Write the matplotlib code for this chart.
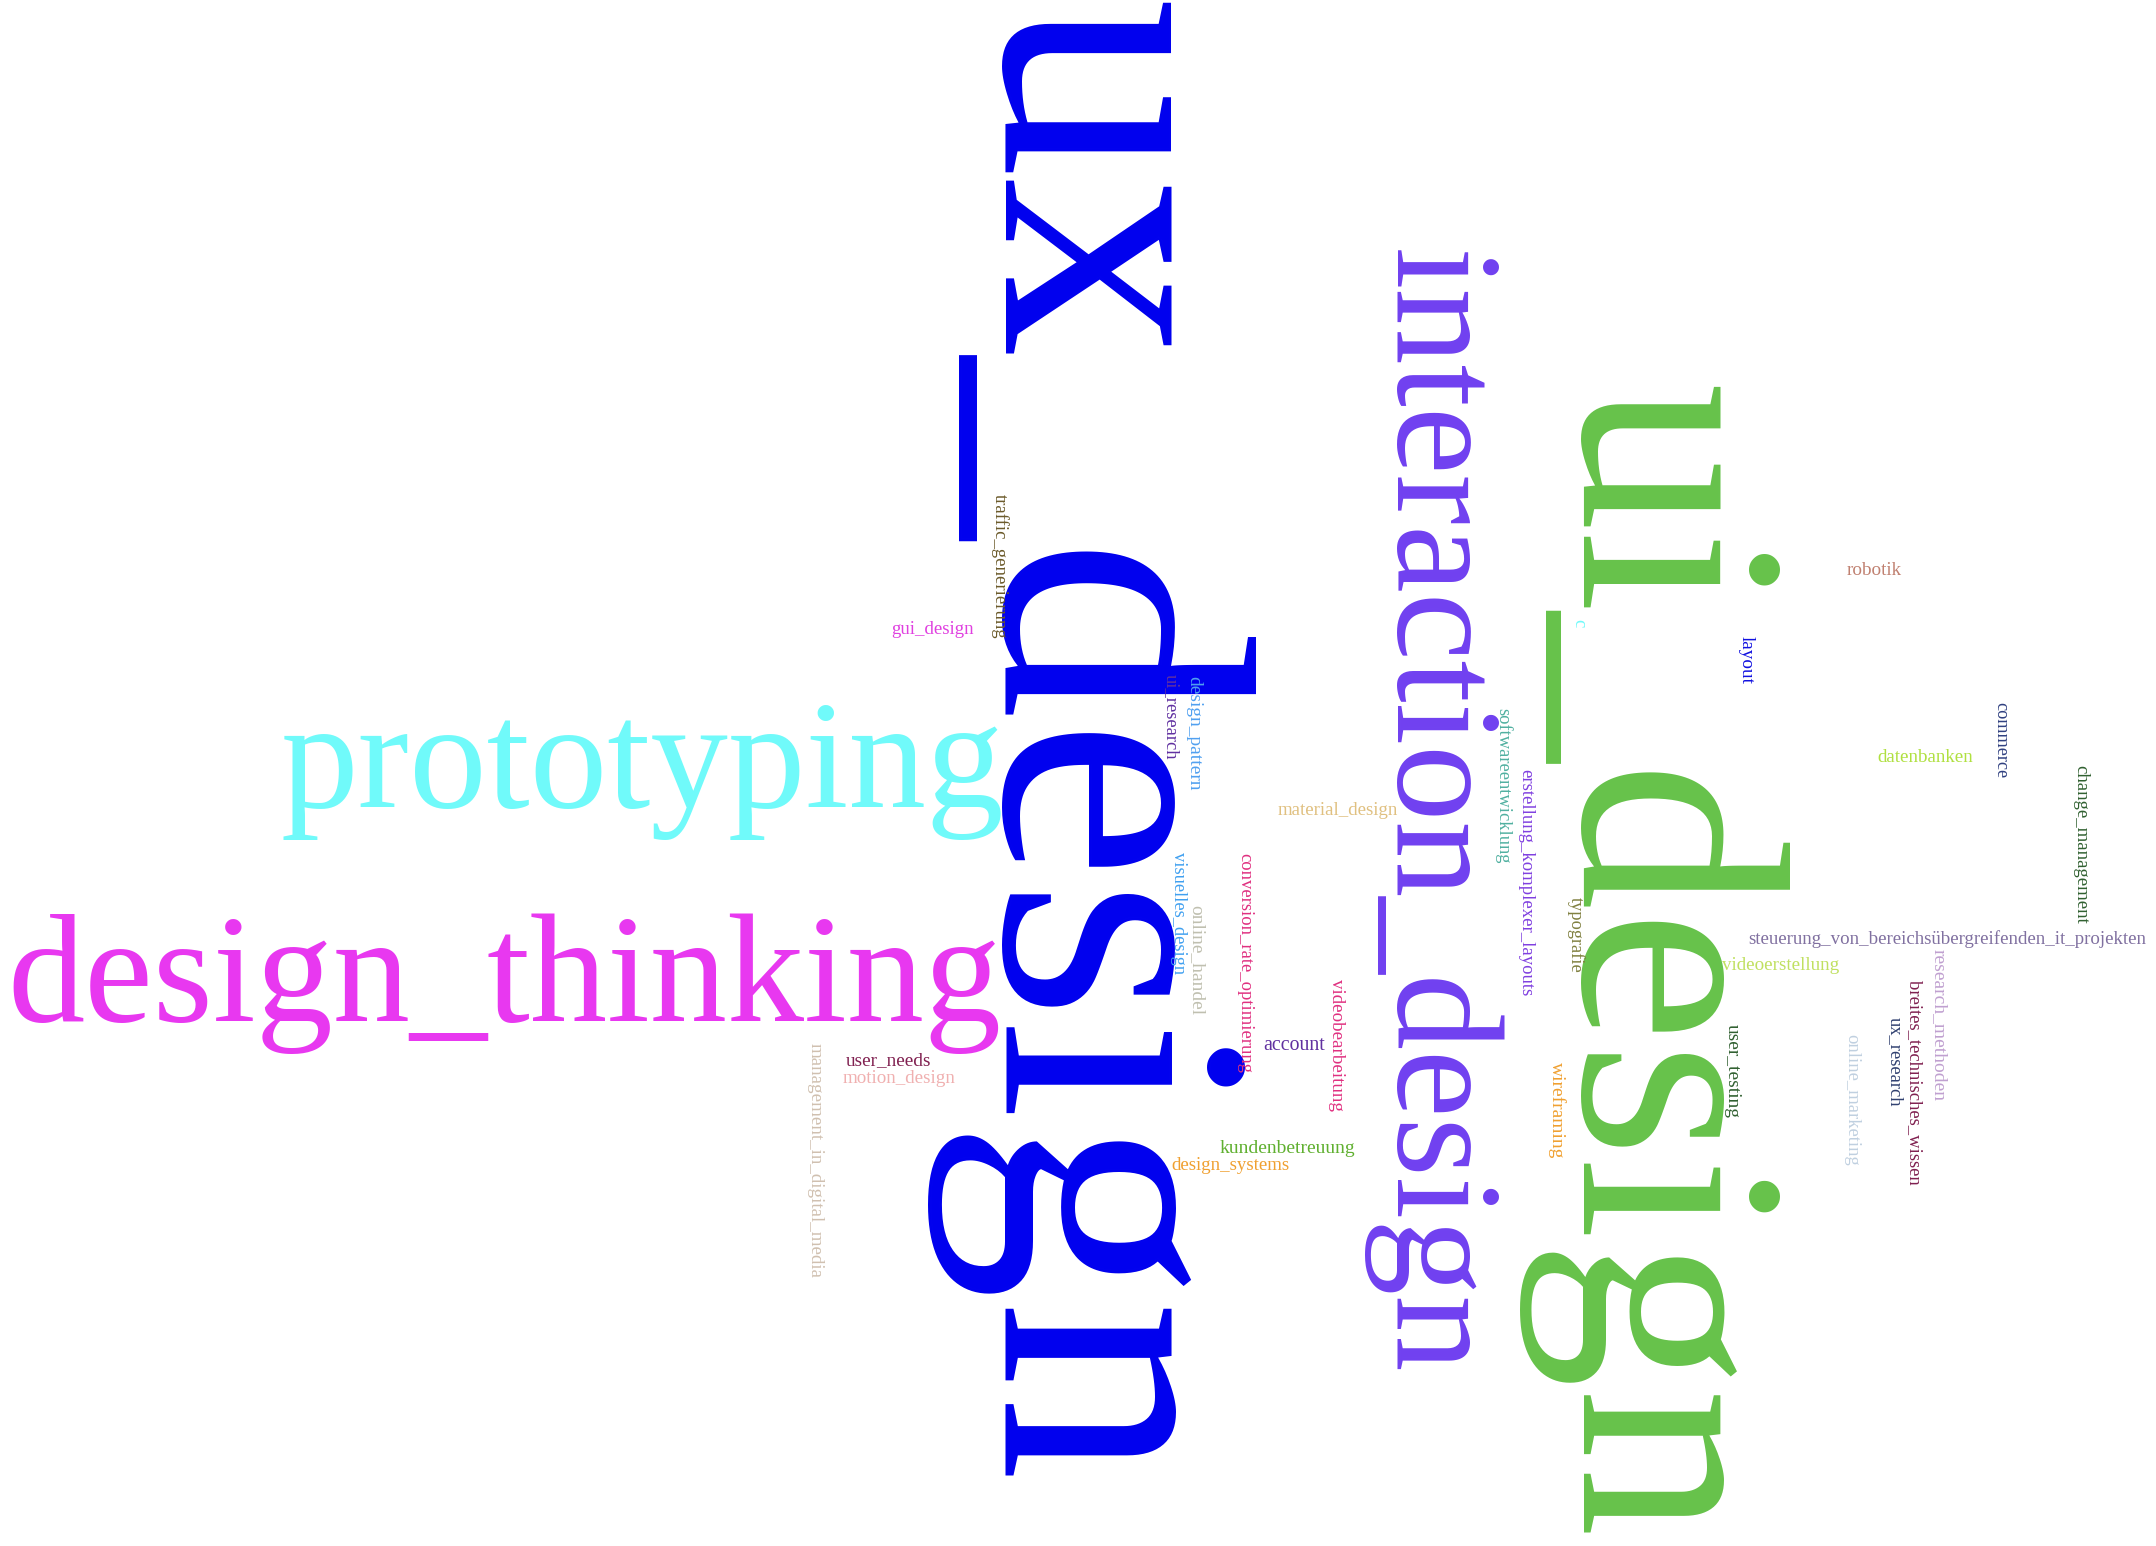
import matplotlib
matplotlib.use("Agg")
import matplotlib.pyplot as plt

words = ["ux_design","ui_design","interaction_design","prototyping","design_thinking",
 "traffic_generierung","gui_design","design_pattern","ui_research","robotik","layout","commerce",
 "datenbanken","change_management","softwareentwicklung","erstellung_komplexer_layouts",
 "material_design","conversion_rate_optimierung","visuelles_design","online_handel","typografie",
 "steuerung_von_bereichsübergreifenden_it_projekten","videoerstellung","research_methoden",
 "breites_technisches_wissen","ux_research","videobearbeitung","account","user_needs","motion_design",
 "management_in_digital_media","user_testing","online_marketing","wireframing","kundenbetreuung","design_systems","c"]
colors = ["#0000EE","#66C24A","#7040F0","#70FAFA","#E838F0",
 "#6B5A2A","#E040E0","#50A0F0","#6030A0","#C08070","#1010E0","#304080",
 "#B0E040","#306030","#50B0A0","#8040E0",
 "#E0C080","#E03080","#40A0F0","#C0C0B0","#808040",
 "#8070A0","#C0E060","#C0A0D0",
 "#802050","#304070","#E03080","#6030A0","#802050","#F0B0B0",
 "#D0C0B0","#306030","#C0D0E0","#F0A030","#60B030","#F0A030","#70FAFA"]
# layout: centre x, centre y, length (reference pixels), vertical flag
layout = [(790,540,1080,1),(1200,700,840,1),(1040,590,820,1),(467,560,525,0),(367,715,725,0),
 (727,412,105,1),(678,458,60,0),(868,533,83,1),(852,521,62,1),(1363,415,40,0),(1270,480,35,1),(1455,538,55,1),
 (1400,551,70,0),(1513,614,115,1),(1093,571,113,1),(1110,642,165,1),
 (973,589,88,0),(905,700,160,1),(857,664,88,1),(870,698,80,1),(1146,680,55,1),
 (1416,683,290,0),(1295,702,85,0),(1410,745,110,1),
 (1392,787,149,1),(1378,772,65,1),(972,760,96,1),(941,760,45,0),(646,771,62,0),(654,784,82,0),
 (593,844,172,1),(1260,779,68,1),(1347,800,96,1),(1132,807,70,1),(936,835,98,0),(895,847,86,0),(1148,453,6,1)]

S = 2156/1568
fig = plt.figure(figsize=(21.56,15.46), dpi=100)
ax = fig.add_axes([0,0,1,1]); ax.axis("off")
ax.set_xlim(0,1568); ax.set_ylim(1124,0)
fig.canvas.draw()
r = fig.canvas.get_renderer()
for w,c,(x,y,L,v) in zip(words,colors,layout):
    t = ax.text(x,y,w,color=c,fontsize=10,ha="center",va="center",
                rotation=-90 if v else 0,family="Liberation Serif")
    bb = t.get_window_extent(r)
    cur = bb.height if v else bb.width
    t.set_fontsize(10*L*S/cur)
fig.savefig("out.png", dpi=100, facecolor="white")
